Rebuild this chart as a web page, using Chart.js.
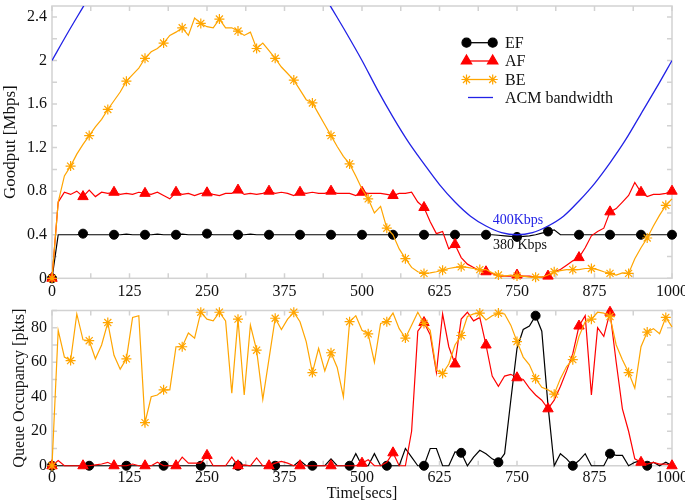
<!DOCTYPE html>
<html><head><meta charset="utf-8">
<script src="https://cdn.jsdelivr.net/npm/chart.js@4.4.0/dist/chart.umd.min.js"></script>
<style>
html,body{margin:0;padding:0;background:#fff;width:685px;height:503px;overflow:hidden;position:relative;}
#top{position:absolute;left:0;top:-1px;}
#bot{position:absolute;left:0;top:300px;}
</style></head><body>
<canvas id="top" width="685" height="311"></canvas>
<canvas id="bot" width="685" height="203"></canvas>
<script>
// ---- data ----
const times = [0,10,20,30,40,50,60,70,80,90,100,110,120,130,140,150,160,170,180,190,200,210,220,230,240,250,260,270,280,290,300,310,320,330,340,350,360,370,380,390,400,410,420,430,440,450,460,470,480,490,500,510,520,530,540,550,560,570,580,590,600,610,620,630,640,650,660,670,680,690,700,710,720,730,740,750,760,770,780,790,800,810,820,830,840,850,860,870,880,890,900,910,920,930,940,950,960,970,980,990,1000];

const goodputEF = [0,0.40,0.40,0.40,0.40,0.41,0.40,0.40,0.40,0.40,
 0.40,0.40,0.405,0.40,0.40,0.40,0.40,0.405,0.40,0.40,
 0.40,0.405,0.40,0.40,0.40,0.41,0.40,0.40,0.40,0.40,
 0.40,0.40,0.405,0.40,0.40,0.40,0.40,0.40,0.40,0.40,
 0.40,0.40,0.40,0.40,0.40,0.40,0.40,0.40,0.40,0.40,
 0.40,0.40,0.40,0.40,0.40,0.40,0.40,0.40,0.40,0.40,
 0.40,0.40,0.40,0.40,0.40,0.40,0.40,0.40,0.40,0.40,
 0.40,0.40,0.395,0.39,0.385,0.38,0.385,0.39,0.40,0.415,
 0.43,0.445,0.40,0.40,0.40,0.40,0.40,0.40,0.40,0.40,
 0.40,0.40,0.40,0.40,0.40,0.40,0.40,0.40,0.40,0.40,
 0.40];

const goodputAF = [0,0.70,0.79,0.77,0.80,0.75,0.81,0.75,0.79,0.78,
 0.79,0.77,0.78,0.77,0.79,0.78,0.77,0.79,0.76,0.73,
 0.79,0.77,0.78,0.76,0.78,0.785,0.77,0.76,0.78,0.78,
 0.81,0.77,0.78,0.77,0.78,0.80,0.78,0.79,0.78,0.76,
 0.79,0.78,0.79,0.78,0.78,0.80,0.78,0.78,0.78,0.76,
 0.79,0.78,0.78,0.78,0.77,0.76,0.78,0.78,0.79,0.70,
 0.65,0.52,0.41,0.43,0.27,0.31,0.19,0.13,0.10,0.07,
 0.06,0.045,0.02,0.02,0.02,0.03,0.02,0.02,0.01,0.01,
 0.02,0.06,0.08,0.12,0.16,0.19,0.28,0.39,0.43,0.46,
 0.61,0.64,0.70,0.76,0.88,0.79,0.75,0.77,0.77,0.78,
 0.80];

const goodputBE = [0,0.70,0.94,1.03,1.14,1.23,1.31,1.39,1.46,1.55,
 1.63,1.71,1.81,1.87,1.93,2.02,2.08,2.11,2.16,2.23,
 2.26,2.30,2.23,2.39,2.34,2.31,2.30,2.38,2.30,2.30,
 2.27,2.23,2.26,2.11,2.16,2.09,2.02,1.94,1.88,1.82,
 1.73,1.64,1.61,1.51,1.41,1.31,1.21,1.12,1.05,0.94,
 0.82,0.73,0.60,0.66,0.46,0.40,0.27,0.18,0.10,0.06,
 0.045,0.05,0.06,0.075,0.09,0.10,0.105,0.10,0.09,0.08,
 0.08,0.05,0.03,0.02,0.03,0.02,0.02,0.01,0.01,0.01,
 0.03,0.06,0.07,0.08,0.08,0.08,0.09,0.09,0.08,0.06,
 0.045,0.03,0.05,0.045,0.18,0.28,0.37,0.48,0.58,0.67,
 0.73];

const acmTimes = [0,25,50,75,100,125,150,175,200,225,250,275,300,325,350,375,400,425,450,475,500,525,550,575,600,625,650,675,700,725,750,775,800,825,850,875,900,925,950,975,1000];
const acmBandwidth = [2.00,2.25,2.49,2.73,2.94,3.13,3.29,3.43,3.52,3.58,3.60,3.58,3.52,3.43,3.29,3.13,2.94,2.73,2.49,2.25,2.00,1.73,1.48,1.25,1.05,0.86,0.70,0.57,0.48,0.42,0.40,0.42,0.48,0.57,0.71,0.87,1.06,1.27,1.51,1.75,2.00];

const queueEF = [0,0,0,0,0,0,0,0,0,0,
 0,0,0,0,0,0,0,0,0,0,
 0,0,0,0,0,0,0,0,0,0,
 0,0,0,0,0,0,0,0,0,0,
 3,0,0,0,0,4,0,0,0,7,
 0,0,7,0,0,0,0,10,5,0,
 0,10,10,0,0,8,7.5,0,5,9,
 7,4,2,7,38,68,79,81,87,78,
 35,0,7,4,0,3,7,0,0,0,
 7,6,6,0,2,3,0,2,0,2,
 0];

const queueAF = [0,3,0,0,0,0,0,0.5,1,2,
 0,0,0,1,0,0,0,2,0,0,
 0,5,1.5,1.5,1.5,6,0,0,0,5,
 0,0.5,0,4.5,0,0,1.5,2.5,1.5,0,
 0,0,0,0,0,0,0,0,0,0,
 1.5,3.5,0,0,2,7.5,0,0,20,78,
 83,76,54,88,69,59,85,89,84,86,
 70,52,46,52,53,51,50,45,41,38,
 33,38,46,55,65,81,87,41,80,75,
 89,60,33,20,4,2,1,2,1,1,
 0];

const queueBE = [0,78.5,63,61,88,73,72.5,62,70,83,
 64,56,62,86,87,25,40,41,44,44,
 69,69,77,74,89,85,84,89,84,42,
 85,41,81.5,67,38.5,62,85.5,79,85,89,
 83.5,72,54,68,55,65.5,57,40,83.5,87,
 78.5,76.5,60,82.5,83.5,88.5,79.5,74,81.5,89,
 82.5,78.5,55.5,53.5,59,70,75.5,86.5,88,88.5,
 84.5,87,88.5,88,81.5,72,63,58.5,50.5,45.5,
 44,41.5,50.5,57.5,61.5,75,83.5,85,89,88.5,
 86.5,70,61.5,54,45,69,77.5,79.5,76.5,86,
 80.5];

const timeTicks = [0,125,250,375,500,625,750,875,1000];
const timeTickMarks = [0,62.5,125,187.5,250,312.5,375,437.5,500,562.5,625,687.5,750,812.5,875,937.5,1000];
const goodputTicks = [0,0.4,0.8,1.2,1.6,2,2.4];
const goodputTickMarks = [0,0.2,0.4,0.6,0.8,1.0,1.2,1.4,1.6,1.8,2.0,2.2,2.4];
const queueTicks = [0,20,40,60,80];
const queueTickMarks = [0,10,20,30,40,50,60,70,80,90];

const seriesNames = ['EF','AF','BE','ACM bandwidth'];
const annotations = ['400Kbps','380 Kbps'];

// ---- styles ----
const C_EF = '#000000', C_AF = '#ff0000', C_BE = '#ffa500', C_ACM = '#2222e6';
const FONT = "'Liberation Serif', 'DejaVu Serif', serif";
Chart.defaults.font.family = FONT;
Chart.defaults.color = '#111';

function pts(xs, ys) { return xs.map((t, i) => ({x: t, y: ys[i]})); }
function every(k, r) { return c => (c.dataIndex % k === 0 ? r : 0); }

const boxPlugin = {
  id: 'boxTicks',
  beforeDatasetsDraw(chart, args, o) {
    const {ctx, chartArea: a} = chart;
    const x = chart.scales.x, y = chart.scales.y;
    ctx.save();
    ctx.strokeStyle = '#d2d2d2';
    ctx.lineWidth = 1.5;
    ctx.strokeRect(a.left, a.top, a.right - a.left, a.bottom - a.top);
    const L = 5;
    ctx.beginPath();
    o.xMarks.forEach(v => {
      const p = x.getPixelForValue(v);
      ctx.moveTo(p, a.bottom); ctx.lineTo(p, a.bottom - L);
      ctx.moveTo(p, a.top); ctx.lineTo(p, a.top + L);
    });
    o.yMarks.forEach(v => {
      const p = y.getPixelForValue(v);
      ctx.moveTo(a.left, p); ctx.lineTo(a.left + L, p);
      ctx.moveTo(a.right, p); ctx.lineTo(a.right - L, p);
    });
    ctx.stroke();
    ctx.restore();
  }
};

function drawMarker(ctx, style, r, x, y, color) {
  ctx.save();
  ctx.fillStyle = color; ctx.strokeStyle = color; ctx.lineWidth = 1.2;
  if (Chart.helpers && Chart.helpers.drawPoint) {
    Chart.helpers.drawPoint(ctx, {pointStyle: style, radius: r, rotation: 0, borderWidth: 1.2}, x, y);
  } else {
    ctx.beginPath(); ctx.arc(x, y, r, 0, Math.PI * 2); ctx.fill();
  }
  ctx.restore();
}

const legendPlugin = {
  id: 'customLegend',
  afterDraw(chart) {
    const ctx = chart.ctx;
    const items = [
      {label: seriesNames[0], color: C_EF, style: 'circle', r: 4.5, y: 43.7},
      {label: seriesNames[1], color: C_AF, style: 'triangle', r: 6, y: 62},
      {label: seriesNames[2], color: C_BE, style: 'star', r: 5, y: 80.5},
      {label: seriesNames[3], color: C_ACM, style: null, r: 0, y: 98.5}
    ];
    const x1 = 466.5, x2 = 492.7;
    items.forEach(it => {
      ctx.save();
      ctx.strokeStyle = it.color; ctx.lineWidth = 1.3;
      ctx.beginPath();
      if (it.style) { ctx.moveTo(x1, it.y); ctx.lineTo(x2, it.y); }
      else { ctx.moveTo(468, it.y); ctx.lineTo(493, it.y); }
      ctx.stroke();
      ctx.restore();
      if (it.style) {
        drawMarker(ctx, it.style, it.r, x1, it.y, it.color);
        drawMarker(ctx, it.style, it.r, x2, it.y, it.color);
      }
      ctx.save();
      ctx.fillStyle = '#111';
      ctx.font = '16px ' + FONT;
      ctx.textAlign = 'left'; ctx.textBaseline = 'middle';
      ctx.fillText(it.label, 505, it.y + 1);
      ctx.restore();
    });
    ctx.save();
    ctx.font = '14px ' + FONT;
    ctx.textAlign = 'center'; ctx.textBaseline = 'middle';
    ctx.fillStyle = C_ACM;
    ctx.fillText(annotations[0], 518, 221);
    ctx.fillStyle = '#111';
    ctx.fillText(annotations[1], 520, 246);
    ctx.restore();
  }
};

function xScale(height, withTitle, pad) {
  return {
    type: 'linear', min: 0, max: 1000,
    grid: {display: false, drawTicks: false}, border: {display: false},
    afterBuildTicks: s => { s.ticks = timeTicks.map(v => ({value: v})); },
    ticks: {font: {size: 16}, padding: pad, maxRotation: 0, autoSkip: false, color: '#111', callback: v => String(v)},
    title: withTitle ? {display: true, text: 'Time[secs]', font: {size: 16}, color: '#111', padding: {top: 0, bottom: 0}} : {display: false},
    afterFit: s => { s.height = height; s.paddingLeft = 0; s.paddingRight = 0; }
  };
}

// ---- top chart ----
new Chart(document.getElementById('top'), {
  type: 'line',
  data: {
    datasets: [
      {label: seriesNames[0], data: pts(times, goodputEF), borderColor: C_EF, backgroundColor: C_EF, borderWidth: 1.2,
       pointStyle: 'circle', pointRadius: every(5, 4.5), pointBorderWidth: 1, order: 3, clip: false},
      {label: seriesNames[1], data: pts(times, goodputAF), borderColor: C_AF, backgroundColor: C_AF, borderWidth: 1.2,
       pointStyle: 'triangle', pointRadius: every(5, 6), pointBorderWidth: 1, order: 2, clip: false},
      {label: seriesNames[2], data: pts(times, goodputBE), borderColor: C_BE, backgroundColor: C_BE, borderWidth: 1.2,
       pointStyle: 'star', pointRadius: every(3, 5), pointBorderWidth: 1.2, order: 1, clip: false},
      {label: seriesNames[3], data: pts(acmTimes, acmBandwidth), borderColor: C_ACM, borderWidth: 1.3,
       pointRadius: 0, cubicInterpolationMode: 'monotone', order: 0}
    ]
  },
  options: {
    responsive: false, animation: false, devicePixelRatio: 1,
    layout: {padding: {left: 0, right: 13, top: 0, bottom: 0}},
    plugins: {legend: {display: false}, tooltip: {enabled: false},
      boxTicks: {xMarks: timeTickMarks, yMarks: goodputTickMarks}},
    scales: {
      x: xScale(31.7, false, 4),
      y: {
        type: 'linear', min: 0, max: 2.5,
        grid: {display: false, drawTicks: false}, border: {display: false},
        afterBuildTicks: s => { s.ticks = goodputTicks.map(v => ({value: v})); },
        ticks: {font: {size: 16}, padding: 5, color: '#111', callback: v => String(v)},
        title: {display: true, text: 'Goodput [Mbps]', font: {size: 17}, color: '#111', padding: {top: 0, bottom: 0}},
        afterFit: s => { s.width = 52; s.paddingTop = 0; s.paddingBottom = 0; }
      }
    }
  },
  plugins: [boxPlugin, legendPlugin]
});

// ---- bottom chart ----
new Chart(document.getElementById('bot'), {
  type: 'line',
  data: {
    datasets: [
      {label: seriesNames[0], data: pts(times, queueEF), borderColor: C_EF, backgroundColor: C_EF, borderWidth: 1.2,
       pointStyle: 'circle', pointRadius: every(6, 4.5), pointBorderWidth: 1, order: 3, clip: false},
      {label: seriesNames[1], data: pts(times, queueAF), borderColor: C_AF, backgroundColor: C_AF, borderWidth: 1.2,
       pointStyle: 'triangle', pointRadius: every(5, 6), pointBorderWidth: 1, order: 2, clip: false},
      {label: seriesNames[2], data: pts(times, queueBE), borderColor: C_BE, backgroundColor: C_BE, borderWidth: 1.2,
       pointStyle: 'star', pointRadius: every(3, 5), pointBorderWidth: 1.2, order: 1, clip: false}
    ]
  },
  options: {
    responsive: false, animation: false, devicePixelRatio: 1,
    layout: {padding: {left: 0, right: 13, top: 10.5, bottom: 0}},
    plugins: {legend: {display: false}, tooltip: {enabled: false},
      boxTicks: {xMarks: timeTickMarks, yMarks: queueTickMarks}},
    scales: {
      x: xScale(37.25, true, 2.5),
      y: {
        type: 'linear', min: 0, max: 90,
        grid: {display: false, drawTicks: false}, border: {display: false},
        afterBuildTicks: s => { s.ticks = queueTicks.map(v => ({value: v})); },
        ticks: {font: {size: 16}, padding: 5, color: '#111', callback: v => String(v)},
        title: {display: true, text: 'Queue Occupancy [pkts]', font: {size: 16}, color: '#111', padding: {top: 10, bottom: 0}},
        afterFit: s => { s.width = 52; s.paddingTop = 0; s.paddingBottom = 0; }
      }
    }
  },
  plugins: [boxPlugin]
});
</script>
</body></html>
